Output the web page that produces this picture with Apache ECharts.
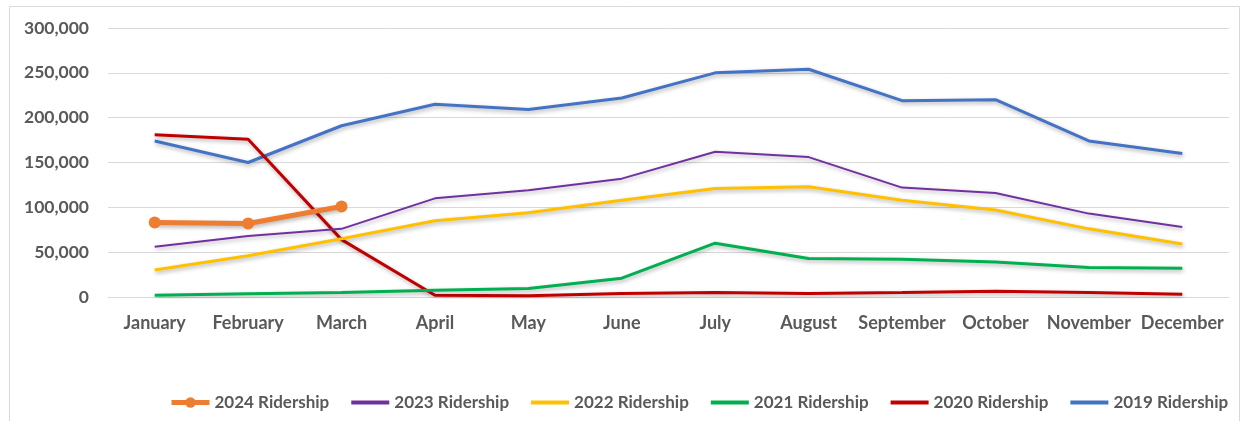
<!DOCTYPE html>
<html>
<head>
<meta charset="utf-8">
<script src="https://cdn.jsdelivr.net/npm/echarts@6/dist/echarts.min.js"></script>
<style>
  html, body { margin: 0; padding: 0; background: #fff; }
  #chart { width: 1249px; height: 421px; }
</style>
</head>
<body>
<div id="chart"></div>
<script>
const months = ['January', 'February', 'March', 'April', 'May', 'June', 'July', 'August', 'September', 'October', 'November', 'December'];
const r2024 = [83000, 82000, 101000];
const r2023 = [56000, 68000, 76000, 110000, 119000, 132000, 162000, 156000, 122000, 116000, 93000, 78000];
const r2022 = [30000, 46000, 65000, 85000, 94000, 108000, 121000, 123000, 108000, 97000, 76000, 59000];
const r2021 = [2000, 3500, 5000, 7500, 9500, 21000, 60000, 43000, 42000, 39000, 33000, 32000];
const r2020 = [181000, 176000, 64000, 2000, 1500, 4000, 5000, 4000, 5000, 6500, 5000, 3000];
const r2019 = [174000, 150000, 191000, 215000, 209000, 222000, 250000, 254000, 219000, 220000, 174000, 160000];
const legendNames = ['2024 Ridership', '2023 Ridership', '2022 Ridership', '2021 Ridership', '2020 Ridership', '2019 Ridership'];

const chart = echarts.init(document.getElementById('chart'));

const shadow = { shadowColor: 'rgba(0,0,0,0.3)', shadowBlur: 4, shadowOffsetX: 1, shadowOffsetY: 2 };
function line(name, data, color, width) {
  return {
    name: name,
    type: 'line',
    data: data,
    symbol: 'none',
    lineStyle: Object.assign({ color: color, width: width }, shadow),
    itemStyle: { color: color },
    z: 2
  };
}

const option = {
  animation: false,
  textStyle: { fontFamily: 'Lato, sans-serif' },
  graphic: [{
    type: 'rect',
    shape: { x: 9.5, y: 6.5, width: 1230, height: 420 },
    style: { fill: 'none', stroke: '#d9d9d9', lineWidth: 1 },
    silent: true
  }],
  grid: { left: 108, right: 20, top: 28, bottom: 124 },
  legend: {
    top: 389,
    left: 164,
    width: 1080,
    itemGap: 20,
    itemWidth: 38,
    itemHeight: 13,
    textStyle: { color: '#595959', fontSize: 17, fontWeight: 'bold', fontFamily: 'Lato, sans-serif' },
    data: legendNames.map((n, i) => i === 0
      ? { name: n, lineStyle: { width: 5, shadowBlur: 0, shadowOffsetX: 0, shadowOffsetY: 0 } }
      : { name: n, itemStyle: { opacity: 0 }, lineStyle: { width: 4, shadowBlur: 0, shadowOffsetX: 0, shadowOffsetY: 0 } })
  },
  xAxis: {
    type: 'category',
    data: months,
    boundaryGap: true,
    axisLine: { lineStyle: { color: '#d9d9d9', width: 1 } },
    axisTick: { show: false },
    axisLabel: { color: '#595959', fontSize: 18, fontWeight: 'bold', margin: 17, interval: 0 }
  },
  yAxis: {
    type: 'value',
    min: 0,
    max: 300000,
    interval: 50000,
    axisLine: { show: false },
    axisTick: { show: false },
    splitLine: { lineStyle: { color: '#d9d9d9', width: 1 } },
    axisLabel: {
      color: '#595959', fontSize: 17.5, fontWeight: 'bold', margin: 19,
      formatter: v => v.toLocaleString('en-US')
    }
  },
  series: [
    line('2019 Ridership', r2019, '#4472C4', 3),
    line('2020 Ridership', r2020, '#C00000', 3),
    line('2021 Ridership', r2021, '#00B050', 3),
    line('2022 Ridership', r2022, '#FFC000', 3),
    line('2023 Ridership', r2023, '#7030A0', 2),
    {
      name: '2024 Ridership',
      type: 'line',
      data: r2024,
      symbol: 'circle',
      symbolSize: 12,
      lineStyle: Object.assign({ color: '#ED7D31', width: 5 }, shadow),
      itemStyle: { color: '#ED7D31' },
      z: 3
    }
  ]
};
chart.setOption(option);
</script>
</body>
</html>
